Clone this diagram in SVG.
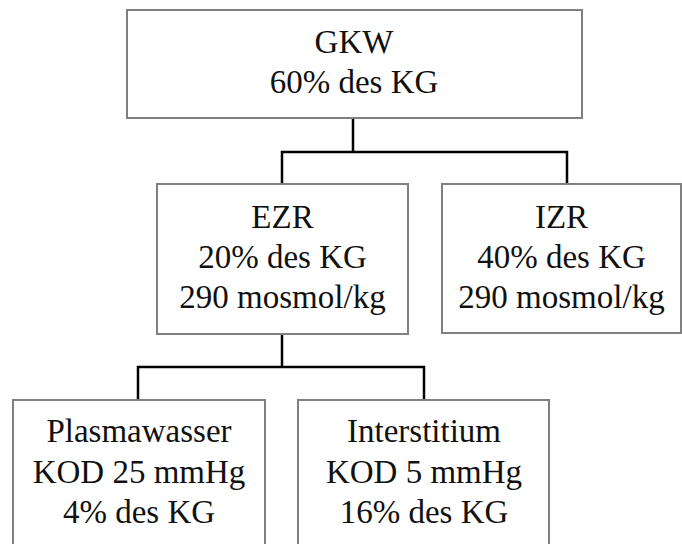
<svg xmlns="http://www.w3.org/2000/svg" width="682" height="544" viewBox="0 0 682 544">
<style>
.box{fill:#fff;stroke:#808080;stroke-width:2}
.t{font-size:33px;fill:#111;text-anchor:middle}
.c{fill:none;stroke:#000;stroke-width:2.5;stroke-linejoin:miter}
</style>
<rect width="682" height="544" fill="#fff"/>
<g id="connectors">
<path class="c" d="M353,119 V152 M282,184 V152 H567 V184"/>
<path class="c" d="M282,334 V367 M138,400 V367 H424 V400"/>
</g>
<g font-family="Liberation Serif, DejaVu Serif, serif">
<g id="gkw">
<rect class="box" x="127" y="10" width="455" height="108"/>
<text class="t" x="354" y="53">GKW</text>
<text class="t" x="354" y="93">60% des KG</text>
</g>
<g id="ezr">
<rect class="box" x="157" y="184" width="251" height="150"/>
<text class="t" x="282.5" y="228">EZR</text>
<text class="t" x="282.5" y="268">20% des KG</text>
<text class="t" x="282.5" y="308">290 mosmol/kg</text>
</g>
<g id="izr">
<rect class="box" x="442" y="184" width="239" height="149"/>
<text class="t" x="561.5" y="228">IZR</text>
<text class="t" x="561.5" y="268">40% des KG</text>
<text class="t" x="561.5" y="308">290 mosmol/kg</text>
</g>
<g id="plasmawasser">
<rect class="box" x="13" y="400" width="252" height="160"/>
<text class="t" x="139" y="442">Plasmawasser</text>
<text class="t" x="139" y="483">KOD 25 mmHg</text>
<text class="t" x="139" y="523">4% des KG</text>
</g>
<g id="interstitium">
<rect class="box" x="298" y="400" width="251" height="160"/>
<text class="t" x="424" y="442">Interstitium</text>
<text class="t" x="424" y="483">KOD 5 mmHg</text>
<text class="t" x="424" y="523">16% des KG</text>
</g>
</g>
</svg>
